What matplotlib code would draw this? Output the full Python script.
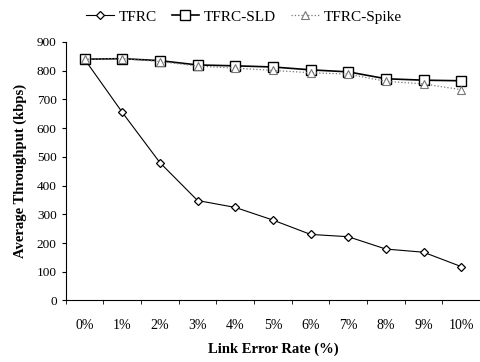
import matplotlib
matplotlib.use('Agg')
import matplotlib.pyplot as plt
import numpy as np

plt.rcParams['font.family'] = ['Liberation Serif', 'DejaVu Serif']

# data
categories = ['0%', '1%', '2%', '3%', '4%', '5%', '6%', '7%', '8%', '9%', '10%']
tfrc = [840, 655, 480, 348, 324, 280, 230, 222, 179, 168, 118]
tfrc_sld = [840, 842, 835, 820, 817, 813, 803, 796, 772, 767, 765]
tfrc_spike = [840, 842, 832, 816, 809, 801, 793, 788, 763, 754, 734]

fig = plt.figure(figsize=(4.8, 3.62), dpi=100)
ax = fig.add_axes([0.137, 0.170, 0.863, 0.714])

x = np.arange(len(categories))
ax.plot(x, tfrc, color='black', linewidth=0.8, marker='D', markersize=4.5,
        markerfacecolor='white', markeredgecolor='black', markeredgewidth=0.9,
        label='TFRC')
ax.plot(x, tfrc_sld, color='black', linewidth=1.2, marker='s', markersize=6.5,
        markerfacecolor='white', markeredgecolor='black', markeredgewidth=1.0,
        label='TFRC-SLD')
ax.plot(x, tfrc_spike, color='#777777', linewidth=0.9, linestyle=':',
        marker='^', markersize=5.5, markerfacecolor='white',
        markeredgecolor='#777777', markeredgewidth=0.8, label='TFRC-Spike')

ax.set_xlim(-0.5, len(categories) - 0.5)
ax.set_ylim(0, 900)
ax.set_yticks(range(0, 901, 100))
ax.set_xticks(x)
ax.set_xticklabels(categories, fontsize=10)
ax.tick_params(axis='x', length=0, pad=13)
ax.set_xticks(np.arange(-0.5, len(categories), 1), minor=True)
ax.tick_params(axis='x', which='minor', length=3, direction='out')
ax.tick_params(axis='y', labelsize=9.5, length=3, direction='out')

ax.spines['top'].set_visible(False)
ax.spines['right'].set_visible(False)

ax.set_xlabel('Link Error Rate (%)', fontsize=10.5, fontweight='bold', labelpad=8)
ax.set_ylabel('Average Throughput (kbps)', fontsize=10.5, fontweight='bold', labelpad=7)

fig.legend(loc='upper center', bbox_to_anchor=(0.508, 1.01), ncol=3, frameon=False,
           fontsize=11, handlelength=1.8, columnspacing=1.0, handletextpad=0.3)

fig.savefig('out.png', dpi=100)
